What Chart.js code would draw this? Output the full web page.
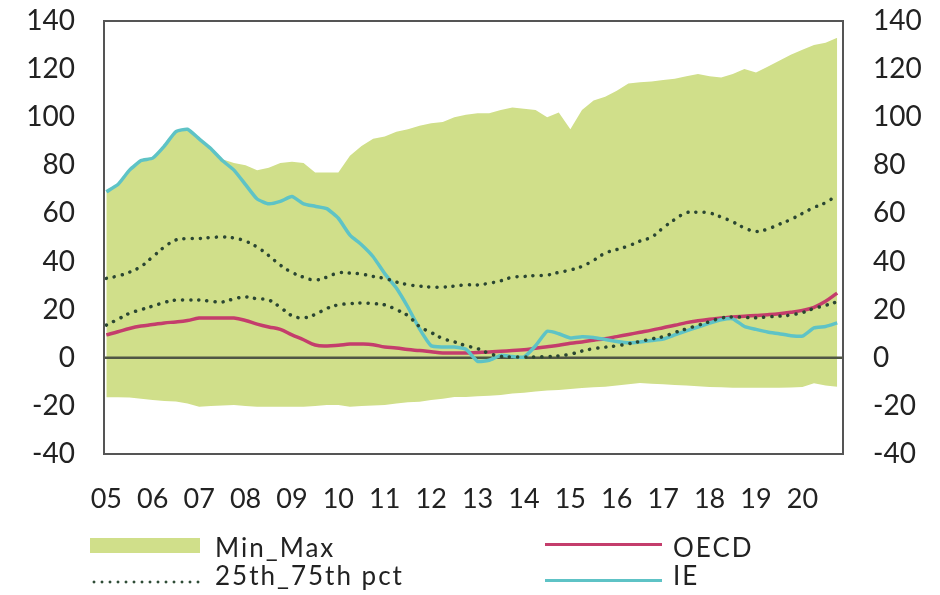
<!DOCTYPE html>
<html>
<head>
<meta charset="utf-8">
<script src="https://cdn.jsdelivr.net/npm/chart.js@4"></script>
<style>
  body { margin: 0; background: #fff; font-family: Lato, sans-serif; color: #222; }
  #wrap { position: relative; width: 940px; height: 595px; overflow: hidden; }
  #chart { position: absolute; left: 0; top: 0; }
  .lg { position: absolute; }
  .txt { position: absolute; font-size: 26px; line-height: 30px; letter-spacing: 2px; white-space: nowrap; }
</style>
</head>
<body>
<div id="wrap">
  <canvas id="chart" width="940" height="595"></canvas>
  <div class="lg" style="left:90px;top:538px;width:110px;height:15px;background:#d0df8a"></div>
  <div class="txt" style="left:215px;top:532px">Min_Max</div>
  <div class="lg" style="left:90px;top:580px;width:110px;height:4px;background-image:radial-gradient(circle, #2f4d37 1.3px, transparent 1.7px);background-size:8px 4px"></div>
  <div class="txt" style="left:215px;top:560px">25th_75th pct</div>
  <div class="lg" style="left:545px;top:543px;width:117px;height:3px;background:#c43d6c"></div>
  <div class="txt" style="left:673px;top:532px">OECD</div>
  <div class="lg" style="left:545px;top:579px;width:117px;height:3px;background:#5ec3c6"></div>
  <div class="txt" style="left:673px;top:560px">IE</div>
</div>
<script>
// tick labels (years) and quarterly categories
const years = ['05', '06', '07', '08', '09', '10', '11', '12', '13', '14', '15', '16', '17', '18', '19', '20'];
const quarters = [];
years.forEach(y => ['Q1', 'Q2', 'Q3', 'Q4'].forEach(q => quarters.push(y + q)));

// band: min / max across countries
const maxVals = [69.5, 72.5, 78.5, 82.5, 83.5, 88.5, 94.5, 95.5, 91.5, 87.5, 82.5, 81, 80, 78, 79, 81,
  81.5, 81, 77, 77, 77, 84, 88, 91, 92, 94, 95, 96.5, 97.5, 98, 100, 101,
  101.7, 101.7, 103, 104, 103.5, 103, 100, 102, 95, 103, 107, 108.5, 111, 114, 114.5, 114.8,
  115.5, 116, 117, 118, 117, 116.5, 118, 120, 118.6, 121, 123.5, 126, 128, 130, 131, 133];
const minVals = [-16.4, -16.4, -16.5, -17, -17.6, -18, -18.2, -19, -20.4, -20, -19.8, -19.6, -20, -20.4, -20.4, -20.4,
  -20.4, -20.4, -20, -19.6, -19.6, -20.4, -20, -19.8, -19.6, -19, -18.5, -18.3, -17.5, -17, -16.3, -16.3,
  -16, -15.8, -15.5, -14.8, -14.5, -14, -13.6, -13.4, -13, -12.6, -12.3, -12, -11.5, -11, -10.5, -10.8,
  -11, -11.3, -11.5, -11.8, -12.1, -12.3, -12.5, -12.5, -12.5, -12.5, -12.5, -12.4, -12.1, -10.6, -11.5, -12];

// 25th and 75th percentiles
const p75 = [33, 34, 35.6, 38, 42, 46, 49, 49.5, 49.6, 50, 50.2, 49.8, 48.5, 46, 42.5, 38.5,
  35.5, 33.5, 32.3, 33.5, 35.3, 35.2, 34.8, 33.8, 33, 31.5, 30.4, 29.8, 29.4, 29.4, 29.8, 30.3,
  30.3, 31, 32, 33.5, 33.8, 34.2, 34.4, 35.5, 36.5, 38, 40.5, 43.5, 45, 46.5, 48.5, 50.2,
  54, 57.5, 60.3, 60.5, 60.2, 58.5, 56.5, 54, 52.5, 53.5, 55.5, 57.5, 60, 62.5, 64.5, 67.6];
const p25 = [13.6, 16, 18.5, 20, 21.5, 23, 24, 24, 24, 23.5, 23.2, 24.5, 25.3, 24.5, 24, 21,
  17.5, 16.6, 18, 20.5, 22, 22.5, 22.8, 22.5, 22, 20, 17.5, 13, 10.5, 8, 6.6, 5,
  3.8, 1.8, 0.6, 0.3, 0.3, 0.3, 0.5, 0.8, 1.5, 2.8, 3.8, 4.4, 5, 5.8, 6.8, 7.8,
  8.8, 10.5, 12, 13.5, 15, 16.5, 17, 16.8, 16.6, 17, 17.3, 17.8, 18.8, 20.5, 21.8, 23.3];

const oecd = [9.5, 10.8, 12.2, 13.2, 13.8, 14.5, 14.9, 15.5, 16.5, 16.5, 16.5, 16.5, 15.5, 14, 12.8, 11.8,
  9.5, 7.5, 5.3, 4.9, 5.2, 5.7, 5.7, 5.4, 4.5, 4.1, 3.4, 3, 2.5, 2, 2, 2,
  2.2, 2.4, 2.7, 3, 3.3, 4, 4.6, 5.2, 6, 6.6, 7.3, 7.9, 8.8, 9.7, 10.6, 11.5,
  12.5, 13.5, 14.6, 15.4, 16, 16.5, 17, 17.3, 17.6, 17.9, 18.3, 18.9, 19.7, 21, 23.5, 26.9];
const ie = [69, 72, 78, 82, 83, 88, 94, 95, 91, 87, 82, 78, 72, 66, 64, 65,
  67, 64, 63, 62, 58, 51, 47, 42, 35, 29, 21, 12, 5, 4.5, 4.5, 3.5,
  -1.5, -1, 1, 0.5, 0.3, 5, 11, 10, 8.2, 8.7, 8.4, 7.6, 6.8, 6.2, 6.6, 7.2,
  7.8, 9.5, 11.2, 12.8, 14.4, 15.8, 16.2, 13, 11.8, 10.7, 10, 9.2, 9, 12.4, 13, 14.5];

const pts = arr => arr.map((v, i) => ({ x: i, y: v }));

const tickFont = { family: 'Lato', size: 28 };

// frame round the plot area
const framePlugin = {
    id: 'frame',
    afterDraw(chart) {
        const { ctx, chartArea: a } = chart;
        ctx.save();
        ctx.strokeStyle = '#555';
        ctx.lineWidth = 2;
        ctx.strokeRect(a.left, a.top, a.width, a.height);
        ctx.restore();
    }
};

// zero line, on top of the band but under the lines
const zeroPlugin = {
    id: 'zeroLine',
    afterDatasetDraw(chart, args) {
        if (args.index !== 0) return;
        const { ctx, chartArea: a } = chart;
        const y = chart.scales.y.getPixelForValue(0);
        ctx.save();
        ctx.strokeStyle = '#4f5644';
        ctx.lineWidth = 2.5;
        ctx.beginPath();
        ctx.moveTo(a.left, y);
        ctx.lineTo(a.right, y);
        ctx.stroke();
        ctx.restore();
    }
};

const dotted = {
    borderColor: '#2a4632',
    borderWidth: 3.5,
    borderDash: [0.1, 8],
    borderCapStyle: 'round',
    pointRadius: 0,
    fill: false,
    tension: 0.4,
    order: 1
};

// vertical axes: keep tick padding from pushing the plot area down
const noPad = s => { s.paddingTop = 0; s.paddingBottom = 0; };

new Chart(document.getElementById('chart'), {
    type: 'line',
    data: {
        datasets: [
            { label: 'Min_Max', data: pts(maxVals), fill: 1, backgroundColor: '#d0df8a', borderWidth: 0, pointRadius: 0, tension: 0, order: 10 },
            { label: 'Min', data: pts(minVals), fill: false, borderWidth: 0, pointRadius: 0, tension: 0, order: 11 },
            Object.assign({ label: '25th_75th pct', data: pts(p75) }, dotted),
            Object.assign({ label: '25th', data: pts(p25) }, dotted),
            { label: 'OECD', data: pts(oecd), borderColor: '#c43d6c', borderWidth: 3.5, pointRadius: 0, tension: 0.4, fill: false, order: 3 },
            { label: 'IE', data: pts(ie), borderColor: '#5ec3c6', borderWidth: 3.5, pointRadius: 0, tension: 0.15, fill: false, order: 2 }
        ]
    },
    options: {
        responsive: false,
        animation: false,
        layout: { padding: { top: 21, left: 0, right: 0, bottom: 0 } },
        plugins: { legend: { display: false }, tooltip: { enabled: false } },
        scales: {
            x: {
                type: 'linear',
                min: -0.2,
                max: 63.5,
                grid: { display: false },
                border: { display: false },
                afterBuildTicks: s => { s.ticks = years.map((_, k) => ({ value: k * 4 })); },
                afterFit: s => { s.height = 141; },
                ticks: {
                    autoSkip: false,
                    maxRotation: 0,
                    padding: 21,
                    color: '#222',
                    font: { family: 'Lato', size: 27 },
                    callback: v => years[v / 4]
                }
            },
            y: {
                position: 'left',
                min: -40,
                max: 140,
                border: { display: false },
                grid: { display: false, drawTicks: false },
                afterFit: s => { s.width = 104; noPad(s); },
                ticks: { stepSize: 20, padding: 29, color: '#222', font: tickFont }
            },
            y2: {
                position: 'right',
                min: -40,
                max: 140,
                border: { display: false },
                grid: { display: false, drawTicks: false },
                afterFit: s => { s.width = 97; noPad(s); },
                ticks: { stepSize: 20, padding: 30, color: '#222', font: tickFont }
            }
        }
    },
    plugins: [framePlugin, zeroPlugin]
});
</script>
</body>
</html>
